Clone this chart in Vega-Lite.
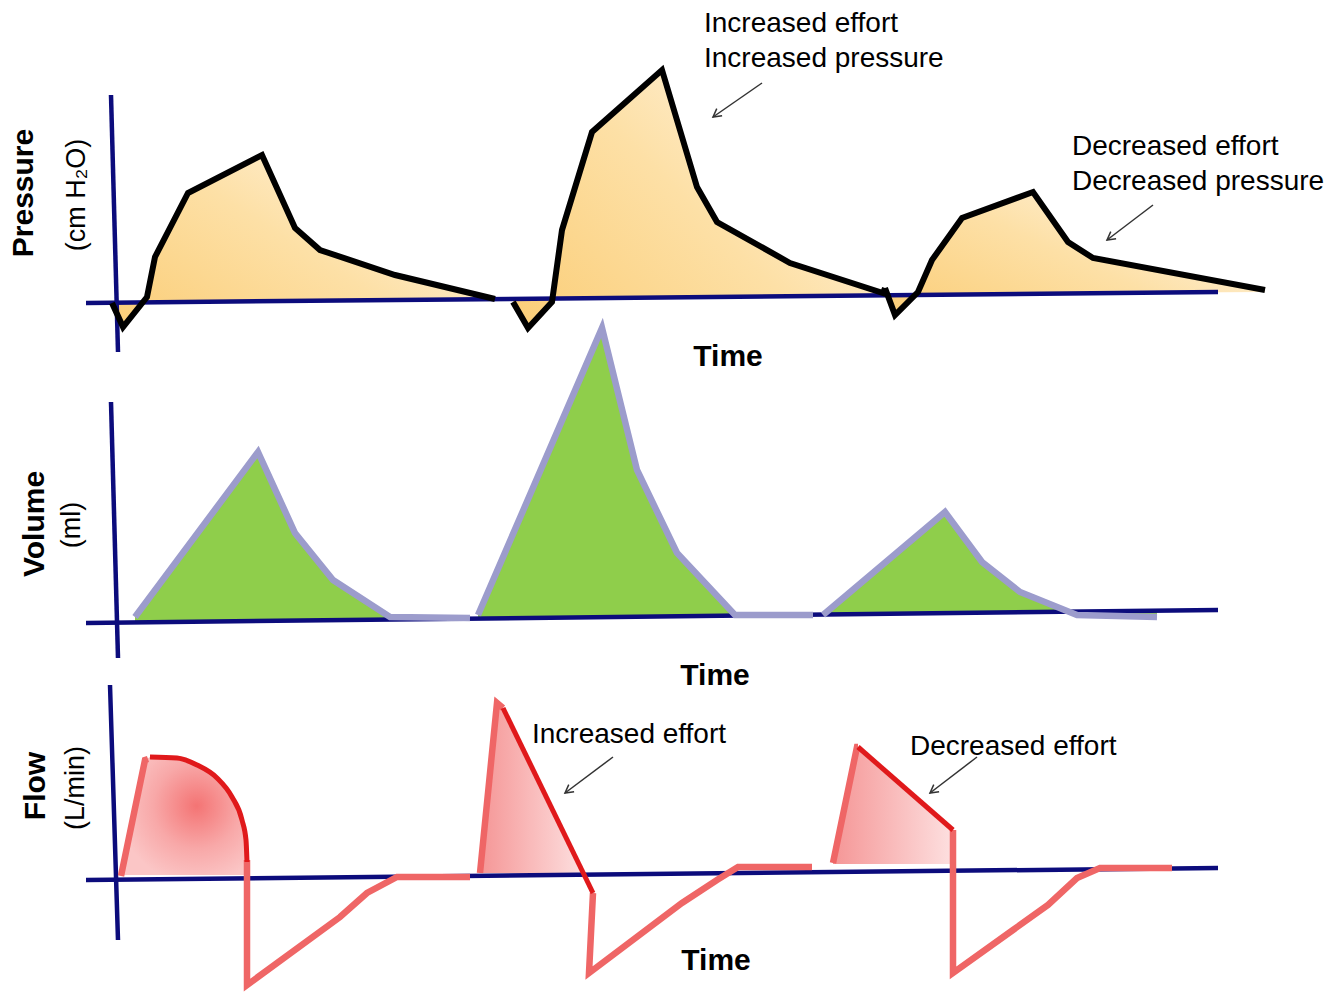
{
  "$schema": "https://vega.github.io/schema/vega-lite/v6.json",
  "padding": 0,
  "spacing": 0,
  "bounds": "flush",
  "background": "white",
  "config": {"view": {"stroke": null}, "text": {"font": "Liberation Sans", "color": "#000000"}},
  "datasets": {
    "pressure": [
      {"cycle": 1, "t": 112, "v": 0, "floor": 0},
      {"cycle": 1, "t": 123, "v": -24, "floor": 0},
      {"cycle": 1, "t": 147, "v": 6, "floor": 1},
      {"cycle": 1, "t": 155, "v": 46, "floor": 1},
      {"cycle": 1, "t": 188, "v": 110, "floor": 1},
      {"cycle": 1, "t": 262, "v": 148, "floor": 2},
      {"cycle": 1, "t": 295, "v": 75, "floor": 2},
      {"cycle": 1, "t": 320, "v": 53, "floor": 2},
      {"cycle": 1, "t": 395, "v": 28, "floor": 3},
      {"cycle": 1, "t": 495, "v": 4, "floor": 4},
      {"cycle": 2, "t": 513, "v": 1, "floor": 4},
      {"cycle": 2, "t": 528, "v": -25, "floor": 4},
      {"cycle": 2, "t": 552, "v": 1, "floor": 5},
      {"cycle": 2, "t": 562, "v": 73, "floor": 5},
      {"cycle": 2, "t": 592, "v": 171, "floor": 5},
      {"cycle": 2, "t": 662, "v": 233, "floor": 6},
      {"cycle": 2, "t": 697, "v": 116, "floor": 6},
      {"cycle": 2, "t": 717, "v": 81, "floor": 6},
      {"cycle": 2, "t": 790, "v": 40, "floor": 7},
      {"cycle": 2, "t": 883, "v": 10, "floor": 8},
      {"cycle": 2, "t": 885, "v": 15, "floor": 8},
      {"cycle": 3, "t": 885, "v": 15, "floor": 8},
      {"cycle": 3, "t": 895, "v": -12, "floor": 8},
      {"cycle": 3, "t": 918, "v": 11, "floor": 8},
      {"cycle": 3, "t": 932, "v": 43, "floor": 8},
      {"cycle": 3, "t": 962, "v": 85, "floor": 9},
      {"cycle": 3, "t": 1033, "v": 111, "floor": 9},
      {"cycle": 3, "t": 1068, "v": 61, "floor": 10},
      {"cycle": 3, "t": 1093, "v": 45, "floor": 10},
      {"cycle": 3, "t": 1265, "v": 13, "floor": 11}
    ],
    "pressureAxes": [
      {"axis": "time", "i": 1, "t": 86, "v": 0},
      {"axis": "time", "i": 2, "t": 1218, "v": 11},
      {"axis": "pressure", "i": 1, "t": 111, "v": 208},
      {"axis": "pressure", "i": 2, "t": 118, "v": -49}
    ],
    "volume": [
      {"cycle": 1, "t": 135, "v": 6, "floor": 1},
      {"cycle": 1, "t": 258, "v": 171, "floor": 2},
      {"cycle": 1, "t": 295, "v": 90, "floor": 2},
      {"cycle": 1, "t": 333, "v": 43, "floor": 3},
      {"cycle": 1, "t": 390, "v": 6, "floor": 3},
      {"cycle": 1, "t": 470, "v": 5, "floor": 4},
      {"cycle": 2, "t": 478, "v": 8, "floor": 4},
      {"cycle": 2, "t": 602, "v": 295, "floor": 6},
      {"cycle": 2, "t": 637, "v": 153, "floor": 6},
      {"cycle": 2, "t": 677, "v": 70, "floor": 7},
      {"cycle": 2, "t": 735, "v": 8, "floor": 7},
      {"cycle": 2, "t": 813, "v": 8, "floor": 8},
      {"cycle": 3, "t": 823, "v": 8, "floor": 8},
      {"cycle": 3, "t": 945, "v": 111, "floor": 10},
      {"cycle": 3, "t": 982, "v": 61, "floor": 10},
      {"cycle": 3, "t": 1020, "v": 31, "floor": 11},
      {"cycle": 3, "t": 1077, "v": 8, "floor": 11},
      {"cycle": 3, "t": 1157, "v": 6, "floor": 12}
    ],
    "volumeAxes": [
      {"axis": "time", "i": 1, "t": 86, "v": 0},
      {"axis": "time", "i": 2, "t": 1218, "v": 13},
      {"axis": "volume", "i": 1, "t": 111, "v": 221},
      {"axis": "volume", "i": 2, "t": 118, "v": -35}
    ],
    "flowAxes": [
      {"axis": "time", "i": 1, "t": 86, "v": 0},
      {"axis": "time", "i": 2, "t": 1218, "v": 12},
      {"axis": "flow", "i": 1, "t": 110, "v": 195},
      {"axis": "flow", "i": 2, "t": 118, "v": -60}
    ],
    "flow": [
      {"seg": "1a", "i": 1, "t": 121, "v": 4},
      {"seg": "1a", "i": 2, "t": 145, "v": 120},
      {"seg": "1a", "i": 3, "t": 148, "v": 121},
      {"seg": "1b", "i": 1, "t": 247, "v": 20},
      {"seg": "1b", "i": 2, "t": 247, "v": -105},
      {"seg": "1b", "i": 3, "t": 340, "v": -37},
      {"seg": "1b", "i": 4, "t": 367, "v": -13},
      {"seg": "1b", "i": 5, "t": 397, "v": 3},
      {"seg": "1b", "i": 6, "t": 470, "v": 3},
      {"seg": "2a", "i": 1, "t": 480, "v": 7},
      {"seg": "2a", "i": 2, "t": 497, "v": 177},
      {"seg": "2a", "i": 3, "t": 503, "v": 172},
      {"seg": "2b", "i": 1, "t": 593, "v": -13},
      {"seg": "2b", "i": 2, "t": 589, "v": -93},
      {"seg": "2b", "i": 3, "t": 682, "v": -23},
      {"seg": "2b", "i": 4, "t": 717, "v": 0},
      {"seg": "2b", "i": 5, "t": 738, "v": 13},
      {"seg": "2b", "i": 6, "t": 812, "v": 13},
      {"seg": "3a", "i": 1, "t": 833, "v": 17},
      {"seg": "3a", "i": 2, "t": 857, "v": 133},
      {"seg": "3a", "i": 3, "t": 858, "v": 133},
      {"seg": "3b", "i": 1, "t": 953, "v": 50},
      {"seg": "3b", "i": 2, "t": 953, "v": -93},
      {"seg": "3b", "i": 3, "t": 1013, "v": -50},
      {"seg": "3b", "i": 4, "t": 1048, "v": -25},
      {"seg": "3b", "i": 5, "t": 1077, "v": 2},
      {"seg": "3b", "i": 6, "t": 1100, "v": 12},
      {"seg": "3b", "i": 7, "t": 1172, "v": 12}
    ],
    "flowTop": [
      {"cycle": 1, "t": 150, "v": 123},
      {"cycle": 1, "t": 177, "v": 122},
      {"cycle": 1, "t": 197, "v": 115},
      {"cycle": 1, "t": 217, "v": 102},
      {"cycle": 1, "t": 232, "v": 83},
      {"cycle": 1, "t": 242, "v": 60},
      {"cycle": 1, "t": 246, "v": 40},
      {"cycle": 1, "t": 247, "v": 18},
      {"cycle": 2, "t": 503, "v": 172},
      {"cycle": 2, "t": 593, "v": -13},
      {"cycle": 3, "t": 858, "v": 133},
      {"cycle": 3, "t": 953, "v": 50}
    ],
    "flowFill1": [
      {"t": 121, "v": 5, "floor": 5},
      {"t": 145, "v": 120, "floor": 5},
      {"t": 150, "v": 123, "floor": 5},
      {"t": 177, "v": 122, "floor": 5},
      {"t": 197, "v": 115, "floor": 5},
      {"t": 217, "v": 102, "floor": 5},
      {"t": 232, "v": 83, "floor": 5},
      {"t": 242, "v": 60, "floor": 5},
      {"t": 246, "v": 40, "floor": 5},
      {"t": 247, "v": 20, "floor": 5}
    ],
    "flowFill23": [
      {"cycle": 2, "t": 480, "v": 7, "floor": 7},
      {"cycle": 2, "t": 497, "v": 177, "floor": 7},
      {"cycle": 2, "t": 503, "v": 172, "floor": 7},
      {"cycle": 2, "t": 584, "v": 5, "floor": 5},
      {"cycle": 3, "t": 833, "v": 17, "floor": 16},
      {"cycle": 3, "t": 857, "v": 133, "floor": 16},
      {"cycle": 3, "t": 953, "v": 50, "floor": 16}
    ]
  },
  "vconcat": [
    {
      "width": 1335,
      "height": 330,
      "encoding": {
        "x": {"field": "t", "type": "quantitative", "scale": {"domain": [0, 1335], "nice": false, "zero": false}, "axis": null},
        "y": {"field": "v", "type": "quantitative", "stack": null, "scale": {"domain": [-27, 303], "nice": false, "zero": false}, "axis": null}
      },
      "layer": [
        {
          "data": {"name": "pressure"},
          "mark": {"type": "area", "color": {"gradient": "linear", "x1": 0, "y1": 0.9, "x2": 1, "y2": 0.2, "stops": [{"offset": 0, "color": "#fbcf7b"}, {"offset": 0.5, "color": "#fde0a6"}, {"offset": 1, "color": "#fff6e8"}]}},
          "encoding": {"y2": {"field": "floor"}, "detail": {"field": "cycle"}}
        },
        {
          "data": {"name": "pressureAxes"},
          "mark": {"type": "line", "color": "#0c0c7c", "strokeWidth": 4.5},
          "encoding": {"detail": {"field": "axis"}, "order": {"field": "i"}}
        },
        {
          "data": {"name": "pressure"},
          "mark": {"type": "line", "color": "#000000", "strokeWidth": 6},
          "encoding": {"detail": {"field": "cycle"}}
        },
        {
          "data": {"values": [{"t": 728, "v": -54, "label": "Time"}]},
          "mark": {"type": "text", "fontSize": 30, "fontWeight": "bold", "align": "center", "baseline": "middle"},
          "encoding": {"text": {"field": "label"}}
        },
        {
          "data": {"values": [{"t": 24, "v": 110, "label": "Pressure"}]},
          "mark": {"type": "text", "fontSize": 30, "fontWeight": "bold", "align": "center", "baseline": "middle", "angle": 270},
          "encoding": {"text": {"field": "label"}}
        },
        {
          "data": {"values": [{"t": 77, "v": 108, "label": "(cm H₂O)"}]},
          "mark": {"type": "text", "fontSize": 27, "align": "center", "baseline": "middle", "angle": 270},
          "encoding": {"text": {"field": "label"}}
        },
        {
          "data": {"values": [
            {"t": 704, "v": 271, "label": "Increased effort"},
            {"t": 704, "v": 236, "label": "Increased pressure"},
            {"t": 1072, "v": 148, "label": "Decreased effort"},
            {"t": 1072, "v": 113, "label": "Decreased pressure"}
          ]},
          "mark": {"type": "text", "fontSize": 28, "align": "left", "baseline": "alphabetic"},
          "encoding": {"text": {"field": "label"}}
        },
        {
          "data": {"values": [
            {"t": 713, "v": 186, "t2": 762, "v2": 220},
            {"t": 1107, "v": 63, "t2": 1153, "v2": 98}
          ]},
          "mark": {"type": "rule", "color": "#333333", "strokeWidth": 1.5},
          "encoding": {"x2": {"field": "t2"}, "y2": {"field": "v2"}}
        },
        {
          "data": {"values": [
            {"t": 713, "v": 186},
            {"t": 1107, "v": 63}
          ]},
          "mark": {"type": "point", "shape": "M -0.55 1 L 0 0 L 0.55 1", "filled": false, "color": "#333333", "strokeWidth": 1.5, "size": 260, "angle": 233, "opacity": 1}
        }
      ]
    },
    {
      "width": 1335,
      "height": 360,
      "encoding": {
        "x": {"field": "t", "type": "quantitative", "scale": {"domain": [0, 1335], "nice": false, "zero": false}, "axis": null},
        "y": {"field": "v", "type": "quantitative", "stack": null, "scale": {"domain": [-67, 293], "nice": false, "zero": false}, "axis": null}
      },
      "layer": [
        {
          "data": {"name": "volume"},
          "mark": {"type": "area", "color": "#8fce4b"},
          "encoding": {"y2": {"field": "floor"}, "detail": {"field": "cycle"}}
        },
        {
          "data": {"name": "volumeAxes"},
          "mark": {"type": "line", "color": "#0c0c7c", "strokeWidth": 4.5},
          "encoding": {"detail": {"field": "axis"}, "order": {"field": "i"}}
        },
        {
          "data": {"name": "volume"},
          "mark": {"type": "line", "color": "#9c9ccc", "strokeWidth": 6.5},
          "encoding": {"detail": {"field": "cycle"}}
        },
        {
          "data": {"values": [{"t": 715, "v": -53, "label": "Time"}]},
          "mark": {"type": "text", "fontSize": 30, "fontWeight": "bold", "align": "center", "baseline": "middle"},
          "encoding": {"text": {"field": "label"}}
        },
        {
          "data": {"values": [{"t": 35, "v": 99, "label": "Volume"}]},
          "mark": {"type": "text", "fontSize": 30, "fontWeight": "bold", "align": "center", "baseline": "middle", "angle": 270},
          "encoding": {"text": {"field": "label"}}
        },
        {
          "data": {"values": [{"t": 72, "v": 98, "label": "(ml)"}]},
          "mark": {"type": "text", "fontSize": 27, "align": "center", "baseline": "middle", "angle": 270},
          "encoding": {"text": {"field": "label"}}
        }
      ]
    },
    {
      "width": 1335,
      "height": 305,
      "encoding": {
        "x": {"field": "t", "type": "quantitative", "scale": {"domain": [0, 1335], "nice": false, "zero": false}, "axis": null},
        "y": {"field": "v", "type": "quantitative", "stack": null, "scale": {"domain": [-115, 190], "nice": false, "zero": false}, "axis": null}
      },
      "layer": [
        {
          "data": {"name": "flowFill1"},
          "mark": {"type": "area", "color": {"gradient": "radial", "x1": 0.6, "y1": 0.42, "r1": 0, "x2": 0.6, "y2": 0.42, "r2": 0.62, "stops": [{"offset": 0, "color": "#f47474"}, {"offset": 0.55, "color": "#f8a8a8"}, {"offset": 1, "color": "#fbc6c6"}]}},
          "encoding": {"y2": {"field": "floor"}}
        },
        {
          "data": {"name": "flowFill23"},
          "mark": {"type": "area", "color": {"gradient": "linear", "x1": 0, "y1": 0, "x2": 1, "y2": 0, "stops": [{"offset": 0, "color": "#f59696"}, {"offset": 1, "color": "#fde0e0"}]}},
          "encoding": {"y2": {"field": "floor"}, "detail": {"field": "cycle"}}
        },
        {
          "data": {"name": "flowAxes"},
          "mark": {"type": "line", "color": "#0c0c7c", "strokeWidth": 4.5},
          "encoding": {"detail": {"field": "axis"}, "order": {"field": "i"}}
        },
        {
          "data": {"name": "flow"},
          "mark": {"type": "line", "color": "#ef6666", "strokeWidth": 6.5},
          "encoding": {"detail": {"field": "seg"}, "order": {"field": "i"}}
        },
        {
          "data": {"name": "flowTop"},
          "mark": {"type": "line", "color": "#e0191b", "strokeWidth": 5, "interpolate": "monotone"},
          "encoding": {"detail": {"field": "cycle"}}
        },
        {
          "data": {"values": [{"t": 716, "v": -81, "label": "Time"}]},
          "mark": {"type": "text", "fontSize": 30, "fontWeight": "bold", "align": "center", "baseline": "middle"},
          "encoding": {"text": {"field": "label"}}
        },
        {
          "data": {"values": [{"t": 36, "v": 94, "label": "Flow"}]},
          "mark": {"type": "text", "fontSize": 30, "fontWeight": "bold", "align": "center", "baseline": "middle", "angle": 270},
          "encoding": {"text": {"field": "label"}}
        },
        {
          "data": {"values": [{"t": 76, "v": 92, "label": "(L/min)"}]},
          "mark": {"type": "text", "fontSize": 27, "align": "center", "baseline": "middle", "angle": 270},
          "encoding": {"text": {"field": "label"}}
        },
        {
          "data": {"values": [
            {"t": 532, "v": 137, "label": "Increased effort"},
            {"t": 910, "v": 125, "label": "Decreased effort"}
          ]},
          "mark": {"type": "text", "fontSize": 28, "align": "left", "baseline": "alphabetic"},
          "encoding": {"text": {"field": "label"}}
        },
        {
          "data": {"values": [
            {"t": 565, "v": 87, "t2": 613, "v2": 123},
            {"t": 930, "v": 87, "t2": 977, "v2": 123}
          ]},
          "mark": {"type": "rule", "color": "#333333", "strokeWidth": 1.5},
          "encoding": {"x2": {"field": "t2"}, "y2": {"field": "v2"}}
        },
        {
          "data": {"values": [
            {"t": 565, "v": 87},
            {"t": 930, "v": 87}
          ]},
          "mark": {"type": "point", "shape": "M -0.55 1 L 0 0 L 0.55 1", "filled": false, "color": "#333333", "strokeWidth": 1.5, "size": 260, "angle": 233, "opacity": 1}
        }
      ]
    }
  ]
}
